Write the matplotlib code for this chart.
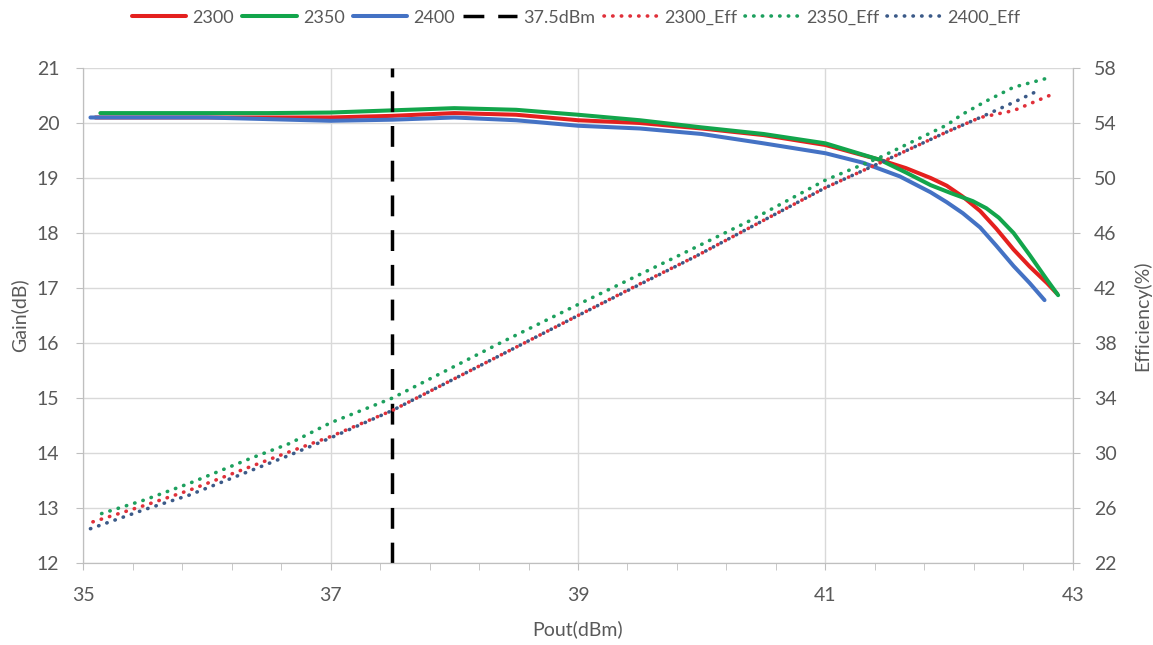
import matplotlib.pyplot as plt
import numpy as np

plt.rcParams['font.family'] = ['Lato', 'DejaVu Sans']

# gain curves (dB) vs Pout (dBm)
pout_2300 = [35.1, 35.5, 36.0, 36.5, 37.0, 37.5, 38.0, 38.5, 39.0, 39.5, 40.0, 40.5,
             41.0, 41.44, 41.65, 41.85, 41.98, 42.11, 42.25, 42.38, 42.52, 42.65, 42.79, 42.87]
gain_2300 = [20.1, 20.1, 20.1, 20.1, 20.1, 20.13, 20.18, 20.15, 20.05, 20.0, 19.9, 19.78,
             19.6, 19.33, 19.18, 19.0, 18.86, 18.66, 18.4, 18.08, 17.7, 17.39, 17.09, 16.9]

pout_2350 = [35.14, 35.5, 36.0, 36.5, 37.0, 37.5, 38.0, 38.5, 39.0, 39.5, 40.0, 40.5,
             41.0, 41.44, 41.65, 41.85, 42.02, 42.19, 42.3, 42.4, 42.52, 42.65, 42.79, 42.88]
gain_2350 = [20.18, 20.18, 20.18, 20.18, 20.19, 20.23, 20.27, 20.24, 20.15, 20.05, 19.92, 19.8,
             19.63, 19.33, 19.1, 18.87, 18.72, 18.58, 18.45, 18.28, 18.0, 17.6, 17.15, 16.87]

pout_2400 = [35.06, 35.5, 36.0, 36.5, 37.0, 37.5, 38.0, 38.5, 39.0, 39.5, 40.0, 40.5,
             41.0, 41.3, 41.6, 41.85, 41.98, 42.11, 42.25, 42.38, 42.52, 42.65, 42.77]
gain_2400 = [20.1, 20.1, 20.1, 20.07, 20.04, 20.06, 20.1, 20.05, 19.95, 19.9, 19.8, 19.63,
             19.45, 19.28, 19.03, 18.74, 18.56, 18.36, 18.1, 17.77, 17.4, 17.09, 16.78]

# efficiency curves (%)
pe_2300 = [35.08, 35.5, 35.86, 36.35, 36.67, 37.0, 37.5, 38.0, 38.37, 39.0, 39.5, 39.95,
           40.39, 41.0, 41.44, 41.98, 42.25, 42.52, 42.81]
eff_2300 = [25.0, 26.2, 27.3, 29.0, 30.1, 31.2, 33.1, 35.4, 37.1, 40.0, 42.3, 44.3,
            46.4, 49.3, 51.1, 53.35, 54.4, 54.9, 56.0]

pe_2350 = [35.15, 35.5, 35.86, 36.35, 36.67, 37.0, 37.5, 38.37, 39.0, 39.8, 40.39, 41.0,
           41.44, 41.98, 42.1, 42.3, 42.52, 42.81]
eff_2350 = [25.6, 26.6, 27.8, 29.6, 30.7, 32.2, 34.0, 38.0, 40.8, 44.3, 46.9, 49.85,
            51.5, 53.85, 54.6, 55.6, 56.6, 57.3]

pe_2400 = [35.06, 35.5, 35.86, 36.67, 37.0, 37.5, 38.37, 39.0, 39.95, 40.39, 41.0,
           41.44, 41.98, 42.25, 42.52, 42.73]
eff_2400 = [24.5, 25.9, 26.95, 29.85, 31.1, 33.1, 37.1, 40.0, 44.3, 46.4, 49.3,
            51.1, 53.35, 54.4, 55.5, 56.4]

marker_pout = 37.5

red = '#E4201E'
green = '#12A54B'
blue = '#4472C4'
grey = '#595959'

fig = plt.figure(figsize=(11.53, 6.45), dpi=100)
ax = fig.add_axes([0.072, 0.127, 0.8586, 0.7676])
ax2 = ax.twinx()

l1, = ax.plot(pout_2300, gain_2300, color=red, lw=2.9, label='2300',
              solid_capstyle='round', solid_joinstyle='round')
l2, = ax.plot(pout_2350, gain_2350, color=green, lw=2.9, label='2350',
              solid_capstyle='round', solid_joinstyle='round')
l3, = ax.plot(pout_2400, gain_2400, color=blue, lw=2.9, label='2400',
              solid_capstyle='round', solid_joinstyle='round')
l4, = ax.plot([marker_pout, marker_pout], [12, 21], color='black', lw=2.5,
              linestyle=(0, (6.0, 4.0)), label='37.5dBm')

dots = (0, (0.1, 2.3))
l5, = ax2.plot(pe_2300, eff_2300, color='#E0303A', lw=2.6, linestyle=dots,
               dash_capstyle='round', label='2300_Eff')
l6, = ax2.plot(pe_2350, eff_2350, color='#1DA05E', lw=2.6, linestyle=dots,
               dash_capstyle='round', label='2350_Eff')
l7, = ax2.plot(pe_2400, eff_2400, color='#3B5A88', lw=2.6, linestyle=dots,
               dash_capstyle='round', label='2400_Eff')

ax.set_xlim(35, 43)
ax.set_ylim(12, 21)
ax2.set_ylim(22, 58)
ax.set_xticks(np.arange(35, 43.1, 2))
ax.set_xticks(np.arange(35, 43.01, 0.4), minor=True)
ax.set_yticks(np.arange(12, 21.1, 1))
ax2.set_yticks(np.arange(22, 58.1, 4))

ax.grid(True, which='major', color='#D9D9D9', lw=1)
ax.set_axisbelow(True)

for a in (ax, ax2):
    for s in a.spines.values():
        s.set_color('#BFBFBF')
    a.spines['top'].set_visible(False)
    a.tick_params(colors='#BFBFBF', labelcolor=grey, labelsize=14, length=5)
ax.tick_params(axis='x', which='minor', colors='#BFBFBF', length=5)
ax.tick_params(axis='x', pad=12)
ax.tick_params(axis='y', pad=12)
ax2.tick_params(axis='y', pad=10)

ax.set_xlabel('Pout(dBm)', color=grey, fontsize=14, labelpad=12)
ax.set_ylabel('Gain(dB)', color=grey, fontsize=14, labelpad=6)
ax2.set_ylabel('Efficiency(%)', color=grey, fontsize=14, labelpad=12)

fig.legend(handles=[l1, l2, l3, l4, l5, l6, l7], loc='upper center',
           bbox_to_anchor=(0.5, 1.01), ncol=7, frameon=False, fontsize=13,
           handlelength=3.0, handletextpad=0.35, columnspacing=0.45,
           labelcolor=grey)

fig.savefig('out.png', dpi=100)
